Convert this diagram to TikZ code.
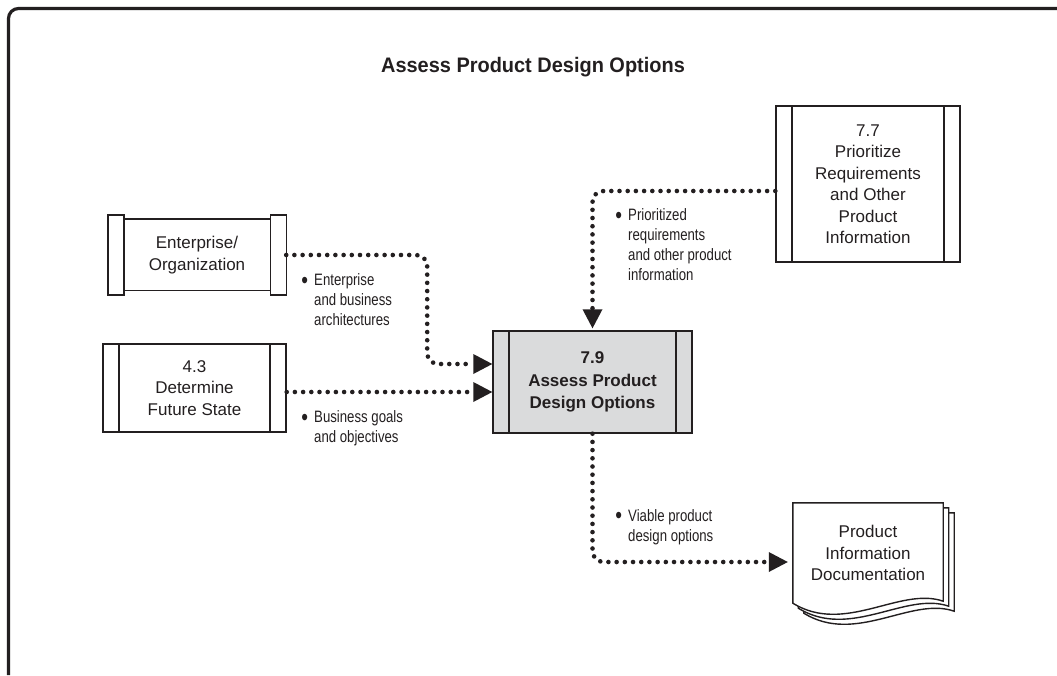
\documentclass[tikz,border=0pt]{standalone}
\usepackage{fontspec}
\setmainfont{Liberation Sans}
\newfontfamily\condfont[FakeStretch=0.8]{Liberation Sans}
\newfontfamily\headfont[FakeStretch=0.95]{Liberation Sans}
\usetikzlibrary{arrows.meta,calc,backgrounds}
\definecolor{cInk}{HTML}{231F20}
\definecolor{cTask}{HTML}{DADBDC}
\newcommand\bul{\llap{\raisebox{-2.6pt}{\fontsize{24}{20}\selectfont\textbullet}\hspace{6pt}}}

\begin{document}
\begin{tikzpicture}[
  x=1pt,y=-1pt,
  font=\fontsize{17}{21.5}\selectfont,
  text=cInk,
  box/.style={draw=cInk,line width=1.4pt,align=center,inner sep=0pt},
  task/.style={box,fill=white,path picture={
      \draw[cInk,line width=1.4pt]
        ([xshift=16pt]path picture bounding box.north west) -- ([xshift=16pt]path picture bounding box.south west)
        ([xshift=-16pt]path picture bounding box.north east) -- ([xshift=-16pt]path picture bounding box.south east);}},
  ext/.style ={align=center,inner sep=0pt},
  bar/.style ={draw=cInk,line width=1.4pt,fill=white},
  pg/.style  ={draw=cInk,line width=1.4pt,fill=white},
  tag/.style ={font=\condfont\fontsize{16.5}{20}\selectfont,align=left,anchor=west,inner sep=0pt},
  a/.style   ={draw=cInk,line width=4.6pt,line cap=round,dash pattern=on 0pt off 8.2pt,
               rounded corners=11pt,-{Triangle[length=19pt,width=20pt,line width=0pt]}},
]
\useasboundingbox (0,0) rectangle (1057,675);
% frame
\draw[cInk,line width=3.2pt,rounded corners=10pt] (8.5,675) -- (8.5,8.5) -- (1057,8.5);

\node[font=\headfont\bfseries\fontsize{21}{25}\selectfont] (ttl) at (533,67) {Assess Product Design Options};

% external entity
\node[ext,minimum width=178pt,minimum height=80pt] (ent) at (197,255) {Enterprise/\\Organization};
\begin{scope}[on background layer]
\draw[bar] (ent.north west) rectangle ++(16,80);
\draw[bar] (ent.north east) rectangle ++(-16,80);
\draw[bar] ([xshift=16pt,yshift=-4pt]ent.north west) rectangle ([xshift=-16pt,yshift=5pt]ent.south east);
\end{scope}

% tasks
\node[task,minimum width=183pt,minimum height=88pt] (fut) at (194.5,388) {4.3\\Determine\\Future State};
\node[task,fill=cTask,font=\bfseries\fontsize{17}{22.5}\selectfont,minimum width=199pt,minimum height=102pt] (asp) at (592.5,382)
  {7.9\\Assess Product\\Design Options};
\node[task,minimum width=184pt,minimum height=156pt] (pri) at (868,184)
  {7.7\\Prioritize\\Requirements\\and Other\\Product\\Information};

% output document
\node[ext,minimum width=150pt,minimum height=100pt] (doc) at (868,553) {Product\\Information\\Documentation};
\begin{scope}[on background layer]
\foreach \k in {2,1,0}
  \draw[pg] ($(doc.north west)+(5.5*\k,5*\k)$) -- ($(doc.north east)+(5.5*\k,5*\k)$)
    -- ($(doc.south east)+(5.5*\k,5*\k-2)$)
    .. controls +(-43,-15) and +(52,32) .. ($(doc.south west)+(5.5*\k,5*\k)$) -- cycle;
\end{scope}

% flows
\draw[a] (ent.east) -- ++(141,0) |- ([yshift=18pt]asp.west);
\draw[a] ([yshift=-4pt]fut.east) -- ([yshift=-10pt]asp.west);
\draw[a,shorten >=2pt] ([yshift=-7pt]pri.west) -| (asp.north);
\draw[a,shorten >=5pt] (asp.south) |- ([yshift=-9pt]doc.west);

\node[tag] at (314,299.5) {\bul Enterprise\\and business\\architectures};
\node[tag] at (314,428.5) {\bul Business goals\\and objectives};
\node[tag] at (628,245) {\bul Prioritized\\requirements\\and other product\\information};
\node[tag] at (628,527) {\bul Viable product\\design options};
\end{tikzpicture}
\end{document}
